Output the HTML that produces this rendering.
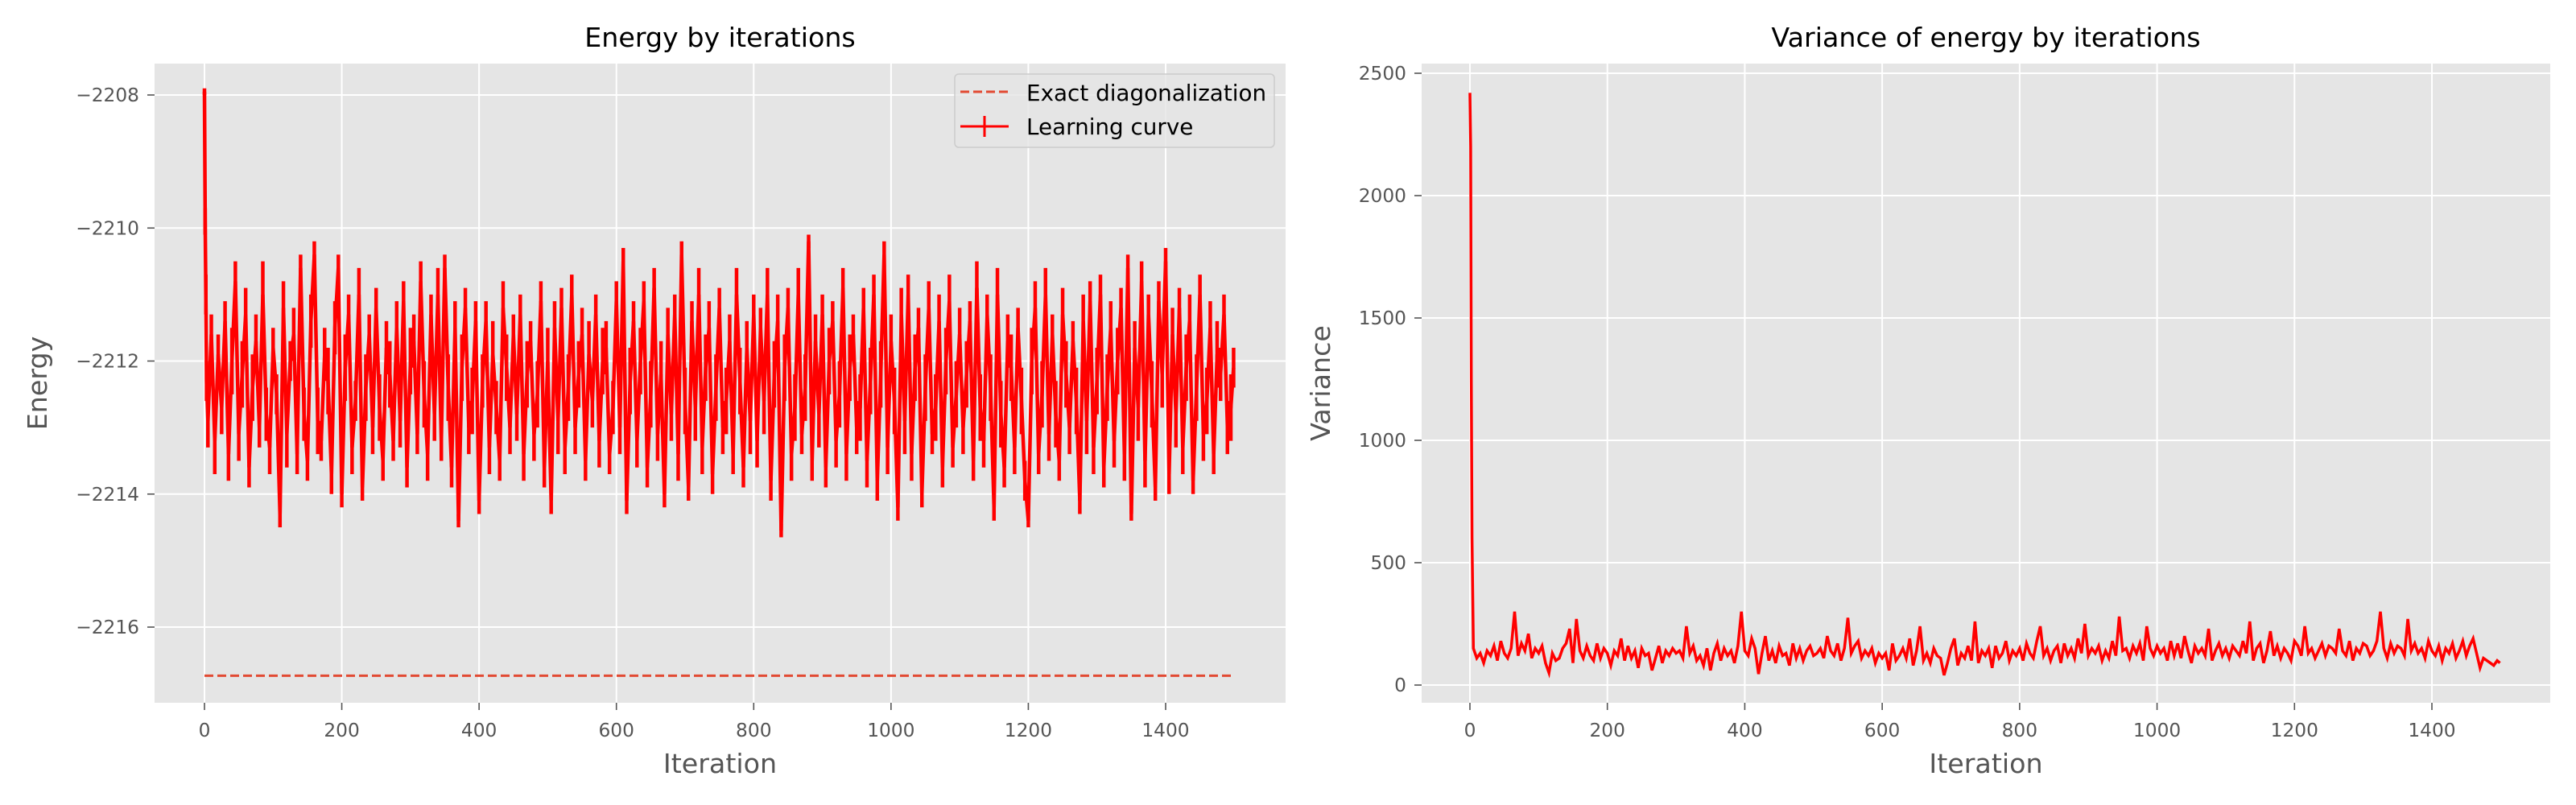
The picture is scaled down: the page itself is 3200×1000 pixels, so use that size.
<!DOCTYPE html>
<html><head><meta charset="utf-8"><style>
html,body{margin:0;padding:0;background:#fff;}
svg{display:block;font-family:"DejaVu Sans","Liberation Sans",sans-serif;}
</style></head><body>
<svg id="fig" width="3200" height="1000" viewBox="0 0 3200 1000" xmlns="http://www.w3.org/2000/svg">
<defs>
<clipPath id="clipL"><rect x="192" y="79" width="1405" height="794"/></clipPath>
<clipPath id="clipR"><rect x="1766" y="79" width="1402" height="794"/></clipPath>
</defs>
<g id="left"></g>
<g id="right"></g>
</svg>
<script>
const xTicks = [0,200,400,600,800,1000,1200,1400];
const energyTicks = [-2208,-2210,-2212,-2214,-2216];
const varianceTicks = [0,500,1000,1500,2000,2500];
const exactEnergy = -2216.73;
const headIters = [0,1,2,3];
const energyHead = [-2207.95,-2209.9,-2211.0,-2212.3];
const energyHeadErr = [0.05,0.2,0.3,0.3];
const varianceHead = [2420,2200,1250,600];
const energyBody = [
-2212.9,-2211.6,-2213.2,-2211.9,-2212.7,-2211.4,-2213.4,-2212.0,-2210.8,-2213.1,-2212.2,-2211.3,-2213.6,-2212.4,-2211.7,-2213.0,-2211.0,-2212.8,-2213.3,-2211.8,
-2212.5,-2214.3,-2211.2,-2213.1,-2212.0,-2211.6,-2213.4,-2210.6,-2212.8,-2213.5,-2211.4,-2210.4,-2212.9,-2213.2,-2211.9,-2212.3,-2213.7,-2211.5,-2210.6,-2214.0,
-2212.1,-2211.3,-2213.3,-2212.6,-2211.0,-2213.9,-2212.4,-2211.6,-2213.0,-2211.2,-2212.7,-2213.5,-2211.8,-2212.2,-2213.2,-2211.5,-2212.9,-2211.1,-2213.6,-2212.0,
-2211.7,-2213.1,-2210.8,-2212.5,-2213.4,-2211.3,-2212.8,-2211.0,-2213.2,-2210.6,-2212.4,-2213.6,-2211.5,-2214.4,-2212.1,-2211.2,-2213.0,-2212.6,-2211.4,-2214.1,
-2212.3,-2211.4,-2213.3,-2211.9,-2212.7,-2213.5,-2211.2,-2212.1,-2213.0,-2211.6,-2212.8,-2211.3,-2213.4,-2212.2,-2211.7,-2213.1,-2212.5,-2211.1,-2213.6,-2212.0,
-2214.1,-2211.5,-2212.9,-2211.2,-2213.3,-2212.4,-2211.0,-2213.0,-2212.2,-2211.6,-2213.5,-2211.9,-2212.6,-2211.3,-2213.2,-2212.0,-2211.8,-2213.4,-2212.7,-2211.1,
-2213.0,-2210.5,-2214.1,-2212.3,-2211.4,-2213.2,-2212.0,-2211.1,-2213.6,-2212.5,-2210.9,-2213.1,-2212.2,-2214.0,-2211.6,-2212.8,-2211.3,-2213.4,-2210.4,-2212.6,
-2213.9,-2211.4,-2212.7,-2211.0,-2213.3,-2212.1,-2211.5,-2213.7,-2212.4,-2211.2,-2213.0,-2212.6,-2211.7,-2213.4,-2211.0,-2212.3,-2213.6,-2211.8,-2212.9,-2211.3,
-2213.2,-2211.5,-2212.6,-2211.0,-2213.8,-2212.2,-2211.4,-2214.55,-2212.1,-2211.2,-2213.4,-2212.7,-2211.0,-2213.1,-2212.4,-2210.2,-2213.5,-2211.7,-2212.8,-2211.3,
-2213.6,-2212.0,-2211.4,-2213.2,-2212.5,-2210.9,-2213.4,-2212.1,-2211.6,-2213.0,-2212.7,-2211.2,-2213.5,-2212.3,-2211.0,-2213.8,-2212.2,-2210.4,-2213.3,-2211.7,
-2212.6,-2214.2,-2211.3,-2212.9,-2211.0,-2213.4,-2212.1,-2211.5,-2214.0,-2212.4,-2211.2,-2213.1,-2212.7,-2211.4,-2213.6,-2212.0,-2211.1,-2213.3,-2212.5,-2211.6,
-2213.0,-2212.2,-2211.4,-2213.5,-2210.9,-2212.7,-2213.2,-2211.3,-2212.4,-2214.2,-2211.0,-2212.8,-2213.6,-2211.7,-2212.1,-2213.3,-2211.5,-2212.6,-2213.8,-2214.4,
-2212.0,-2211.2,-2213.4,-2212.5,-2211.0,-2213.1,-2211.6,-2212.8,-2213.5,-2211.3,-2212.2,-2213.0,-2211.7,-2212.6,-2214.1,-2211.4,-2212.9,-2211.1,-2213.3,-2212.3,
-2211.0,-2213.6,-2212.4,-2211.5,-2213.2,-2212.0,-2211.2,-2213.4,-2210.6,-2214.3,-2211.8,-2212.7,-2210.8,-2213.5,-2211.3,-2212.5,-2213.9,-2211.1,-2212.2,-2210.5,
-2213.7,-2211.6,-2212.8,-2211.2,-2213.3,-2212.1,-2211.4,-2213.8,-2212.4,-2211.0,-2213.1,-2212.6,-2211.5,-2213.4,-2211.9,-2212.2,-2211.3,-2213.0,-2212.7,-2212.1
];
const energyErr = [
0.4,0.3,0.5,0.3,0.4,0.3,0.4,0.5,0.3,0.4,0.5,0.4,0.3,0.5,0.4,0.3,0.5,0.4,0.4,0.3,
0.3,0.2,0.4,0.5,0.3,0.4,0.3,0.2,0.4,0.3,0.4,0.2,0.5,0.3,0.4,0.5,0.3,0.4,0.2,0.2,
0.5,0.3,0.4,0.3,0.4,0.2,0.5,0.3,0.4,0.3,0.5,0.3,0.4,0.5,0.3,0.4,0.4,0.3,0.3,0.5,
0.4,0.3,0.3,0.5,0.4,0.3,0.4,0.4,0.3,0.2,0.5,0.3,0.4,0.1,0.5,0.3,0.4,0.5,0.3,0.2,
0.4,0.3,0.4,0.5,0.4,0.3,0.4,0.5,0.4,0.3,0.4,0.3,0.4,0.5,0.3,0.4,0.5,0.3,0.3,0.5,
0.2,0.4,0.5,0.3,0.4,0.5,0.3,0.4,0.5,0.4,0.3,0.5,0.4,0.3,0.4,0.5,0.4,0.3,0.4,0.3,
0.4,0.2,0.2,0.5,0.3,0.4,0.5,0.3,0.3,0.5,0.3,0.4,0.5,0.2,0.4,0.4,0.3,0.4,0.2,0.5,
0.2,0.3,0.5,0.4,0.4,0.5,0.4,0.3,0.5,0.3,0.4,0.5,0.4,0.3,0.4,0.5,0.3,0.4,0.5,0.3,
0.4,0.3,0.5,0.4,0.3,0.5,0.4,0.1,0.5,0.3,0.4,0.5,0.4,0.3,0.5,0.1,0.3,0.4,0.5,0.3,
0.3,0.5,0.3,0.4,0.5,0.3,0.4,0.5,0.3,0.4,0.5,0.3,0.4,0.5,0.3,0.3,0.5,0.2,0.4,0.4,
0.5,0.2,0.4,0.5,0.3,0.4,0.5,0.3,0.2,0.5,0.4,0.3,0.5,0.4,0.3,0.5,0.4,0.3,0.5,0.4,
0.4,0.5,0.3,0.3,0.4,0.5,0.4,0.3,0.5,0.2,0.4,0.5,0.3,0.4,0.5,0.4,0.3,0.5,0.3,0.1,
0.5,0.4,0.3,0.5,0.4,0.4,0.3,0.5,0.3,0.4,0.5,0.4,0.3,0.5,0.2,0.4,0.5,0.3,0.4,0.5,
0.3,0.3,0.5,0.4,0.4,0.5,0.3,0.4,0.2,0.1,0.4,0.5,0.3,0.4,0.3,0.5,0.2,0.3,0.5,0.2,
0.3,0.4,0.5,0.3,0.4,0.5,0.4,0.2,0.5,0.3,0.4,0.5,0.4,0.3,0.5,0.4,0.3,0.4,0.5,0.3
];
const varianceBody = [
150,110,130,90,140,120,160,100,180,130,110,150,300,120,170,140,210,110,150,130,
160,90,50,130,100,110,150,170,230,90,270,140,110,160,120,100,170,110,150,130,
80,140,120,190,100,160,110,140,70,150,120,130,60,110,160,90,140,120,150,130,
140,110,240,130,160,100,120,80,150,60,130,170,100,150,120,140,90,160,300,140,
120,190,150,45,130,200,100,140,90,160,120,130,80,170,110,150,100,140,160,120,
130,150,110,200,140,120,170,100,150,275,130,160,180,110,140,120,150,90,130,110,
130,60,170,100,120,150,110,190,80,140,240,100,130,90,150,120,110,40,90,150,
190,80,130,110,160,100,260,90,140,120,150,70,160,110,130,180,100,140,120,150,
100,170,130,110,180,240,120,150,100,140,160,90,170,120,150,110,190,130,250,120,
150,130,160,100,140,110,180,120,280,140,150,110,160,130,170,100,240,150,120,160,
130,150,100,180,120,170,110,200,140,90,160,130,150,120,230,100,140,170,120,150,
110,160,140,120,180,130,260,100,150,170,90,140,220,120,160,110,150,130,100,180,
160,120,240,130,150,110,140,170,120,160,150,130,230,140,120,180,100,150,130,170,
160,120,140,180,300,150,110,170,130,160,150,120,270,140,170,130,150,110,180,140,
120,160,100,150,130,170,110,140,180,120,160,190,130,70,110,100,90,80,100,90
];
const bodyStep = 5;
const lastIter = 1499;

const NS = "http://www.w3.org/2000/svg";
function mk(parent, tag, attrs, text){
  const e = document.createElementNS(NS, tag);
  for (const k in attrs) e.setAttribute(k, attrs[k]);
  if (text !== undefined) e.textContent = text;
  parent.appendChild(e);
  return e;
}
function iterations(n){
  const it = headIters.slice();
  for (let k=0;k<n;k++) it.push(Math.min(lastIter, bodyStep*(k+1)));
  return it;
}

function drawPanel(g, cfg){
  const L=cfg.left, R=cfg.right, T=79, B=873;
  const sx = v => cfg.x0 + (v - 0) * cfg.xs;
  const sy = v => cfg.y0 + (v - cfg.v0) * cfg.ys;
  const bg = mk(g,'rect',{x:L,y:T,width:R-L,height:B-T,fill:'#e5e5e5'});
  
  
  const grid = mk(g,'g',{stroke:'#ffffff','stroke-width':2});
  
  
  xTicks.forEach(t=>{ mk(grid,'line',{x1:sx(t),x2:sx(t),y1:T,y2:B}); });
  cfg.yTicks.forEach(t=>{ mk(grid,'line',{x1:L,x2:R,y1:sy(t),y2:sy(t)}); });
  const xt = mk(g,'g',{});
  
  
  xTicks.forEach(t=>{
    mk(xt,'line',{x1:sx(t),x2:sx(t),y1:B,y2:B+9,stroke:'#555','stroke-width':1.6});
    const tx = mk(xt,'text',{x:sx(t),y:B+42,'text-anchor':'middle','font-size':23.3,fill:'#555'},String(t));
    
    
  });
  const yt = mk(g,'g',{});
  
  
  cfg.yTicks.forEach(t=>{
    mk(yt,'line',{x1:L-9,x2:L,y1:sy(t),y2:sy(t),stroke:'#555','stroke-width':1.6});
    const lbl = t<0 ? '\u2212'+Math.abs(t) : String(t);
    const ty = mk(yt,'text',{x:L-19,y:sy(t)+8,'text-anchor':'end','font-size':23.3,fill:'#555'},lbl);
    
    
  });
  const ttl = mk(g,'text',{x:(L+R)/2,y:58,'text-anchor':'middle','font-size':33.3,fill:'#000'},cfg.title);
  
  
  const xl = mk(g,'text',{x:(L+R)/2,y:960,'text-anchor':'middle','font-size':33.3,fill:'#555'},'Iteration');
  
  
  const yc=(T+B)/2;
  const yl = mk(g,'text',{x:cfg.ylx,y:yc,'text-anchor':'middle','font-size':33.3,fill:'#555',transform:`rotate(-90 ${cfg.ylx} ${yc})`},cfg.ylabel);
  
  
  return {sx,sy};
}

// Left: energy
const gl = document.getElementById('left');
const A = drawPanel(gl,{left:192,right:1597,x0:254,xs:(1448-254)/1400,y0:118,v0:-2208,ys:-(779-118)/8,
  yTicks:energyTicks,title:'Energy by iterations',ylabel:'Energy',ylx:58});
const eIt = iterations(energyBody.length);
const eVals = energyHead.concat(energyBody);
const eErr = energyHeadErr.concat(energyErr);
const exact = mk(gl,'line',{x1:A.sx(0),x2:A.sx(lastIter),y1:A.sy(exactEnergy),y2:A.sy(exactEnergy),
  stroke:'#E24A33','stroke-width':3,'stroke-dasharray':'11 5','clip-path':'url(#clipL)'});


const eb = mk(gl,'g',{stroke:'#ff0000','stroke-width':4.5,'clip-path':'url(#clipL)'});


eVals.forEach((v,i)=>{
  mk(eb,'line',{x1:A.sx(eIt[i]),x2:A.sx(eIt[i]),y1:A.sy(v-eErr[i]),y2:A.sy(v+eErr[i])});
});
const ep = mk(gl,'polyline',{points:eVals.map((v,i)=>A.sx(eIt[i]).toFixed(1)+','+A.sy(v).toFixed(1)).join(' '),
  fill:'none',stroke:'#ff0000','stroke-width':4.5,'stroke-linejoin':'miter','clip-path':'url(#clipL)'});



// Legend
const lg = mk(gl,'g',{});


mk(lg,'rect',{x:1186,y:92,width:397,height:91,rx:5,fill:'#e5e5e5','fill-opacity':0.8,stroke:'#cccccc','stroke-width':1.5});
mk(lg,'line',{x1:1193,x2:1253,y1:114,y2:114,stroke:'#E24A33','stroke-width':3,'stroke-dasharray':'11 5'});
const le1 = mk(lg,'text',{x:1275,y:125,'font-size':27.8,fill:'#000'},'Exact diagonalization');


mk(lg,'line',{x1:1193,x2:1253,y1:157,y2:157,stroke:'#ff0000','stroke-width':3});
mk(lg,'line',{x1:1223,x2:1223,y1:144,y2:170,stroke:'#ff0000','stroke-width':3});
const le2 = mk(lg,'text',{x:1275,y:167,'font-size':27.8,fill:'#000'},'Learning curve');



// Right: variance
const gr = document.getElementById('right');
const B2 = drawPanel(gr,{left:1766,right:3168,x0:1826,xs:(3021-1826)/1400,y0:851,v0:0,ys:-(851-91)/2500,
  yTicks:varianceTicks,title:'Variance of energy by iterations',ylabel:'Variance',ylx:1652});
const vIt = iterations(varianceBody.length);
const vVals = varianceHead.concat(varianceBody);
const vp = mk(gr,'polyline',{points:vVals.map((v,i)=>B2.sx(vIt[i]).toFixed(1)+','+B2.sy(v).toFixed(1)).join(' '),
  fill:'none',stroke:'#ff0000','stroke-width':3.5,'clip-path':'url(#clipR)'});


</script>
</body></html>
